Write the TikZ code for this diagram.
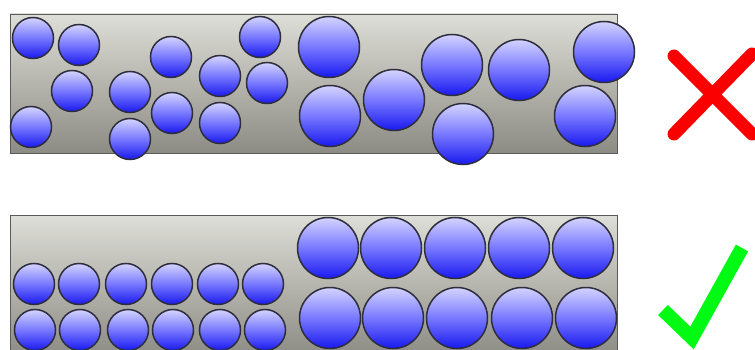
\documentclass[tikz,border=0pt]{standalone}
\usetikzlibrary{calc}
\definecolor{ballTop}{RGB}{212,212,255}
\definecolor{ballMid}{RGB}{120,120,255}
\definecolor{ballBot}{RGB}{25,25,240}
\definecolor{ballEdge}{RGB}{45,45,60}
\definecolor{boxTop}{RGB}{222,222,216}
\definecolor{boxBot}{RGB}{140,140,132}
\definecolor{boxEdge}{RGB}{90,90,90}
\definecolor{crossRed}{RGB}{250,0,0}
\definecolor{tickGreen}{RGB}{0,250,20}
\tikzset{
  ball/.style={top color=ballTop, bottom color=ballBot, middle color=ballMid, draw=ballEdge, line width=1.5pt},
  tray/.style={top color=boxTop, bottom color=boxBot, draw=boxEdge, line width=0.9pt},
  crossmark/.style={draw=crossRed, line width=13pt, line cap=round},
  tickmark/.style={draw=tickGreen, line width=14pt, line cap=butt, line join=miter}
}
\begin{document}
\begin{tikzpicture}[x=1pt,y=-1pt]
\useasboundingbox (0,0) rectangle (755,350);
% top tray (mixed sizes, disordered)
\shadedraw[tray] (10,14) rectangle (617,153);
\foreach \cx/\cy in {33/38, 79/45, 72/91, 31/127, 130/92, 130/139, 171/57, 172/113, 220/76, 220/123, 260/37, 267/83}
  \shadedraw[ball] (\cx,\cy) circle[radius=20.5pt];
\foreach \cx/\cy in {329/47, 330/116, 394/100, 452/65, 463/134, 519/70, 604/52, 585/116}
  \shadedraw[ball] (\cx,\cy) circle[radius=30.5pt];
% bottom tray (sorted)
\shadedraw[tray] (10,215) rectangle (617,356);
\foreach \cx/\cy in {34/284, 79/284, 126/284, 172/284, 218/284, 263/284,
                     35/330, 80/330, 128/330, 173/330, 220/330, 265/330}
  \shadedraw[ball] (\cx,\cy) circle[radius=20.5pt];
\foreach \cx/\cy in {328/248, 391/248, 455/248, 519/248, 583/248,
                     330/318, 393/318, 457/318, 522/318, 586/318}
  \shadedraw[ball] (\cx,\cy) circle[radius=30.5pt];
% red cross
\coordinate (xa) at (674,56);
\coordinate (xb) at (752,134);
\coordinate (xc) at (674,134);
\coordinate (xd) at (752,54);
\draw[crossmark] (xa) -- (xb);
\draw[crossmark] (xc) -- (xd);
% green tick
\coordinate (ta) at (663,310);
\coordinate (tb) at (692,338);
\coordinate (tc) at (742,248);
\draw[tickmark] (ta) -- (tb) -- (tc);
\end{tikzpicture}
\end{document}
